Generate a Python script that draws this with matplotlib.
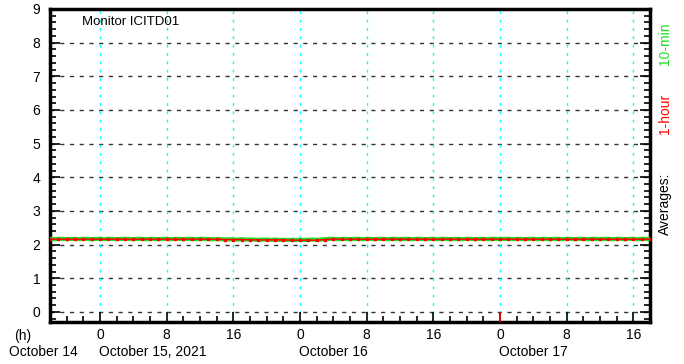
import numpy as np
import matplotlib.pyplot as plt
from matplotlib.ticker import MultipleLocator, FuncFormatter

plt.rcParams['font.family'] = ['Liberation Sans', 'DejaVu Sans']

# hours relative to October 15, 2021 00:00
t_start, t_end = -6, 66
y_min, y_max = -0.3, 9

# 1-hour averages (one per hour, from Oct 14 18:00)
hour_vals = [2.16, 2.16, 2.16, 2.16, 2.16, 2.16, 2.16, 2.16, 2.16, 2.16,
             2.16, 2.16, 2.16, 2.16, 2.16, 2.16, 2.16, 2.16, 2.16, 2.16,
             2.16, 2.15, 2.15, 2.15, 2.14, 2.14, 2.14, 2.14, 2.14, 2.13,
             2.13, 2.13, 2.13, 2.15, 2.16, 2.16, 2.16, 2.16, 2.16, 2.16,
             2.16, 2.16, 2.16, 2.16, 2.16, 2.16, 2.16, 2.16, 2.16, 2.16,
             2.16, 2.16, 2.16, 2.16, 2.16, 2.16, 2.16, 2.16, 2.16, 2.16,
             2.16, 2.16, 2.16, 2.16, 2.16, 2.16, 2.16, 2.16, 2.16, 2.16,
             2.16, 2.16, 2.16]
hour_t = np.arange(t_start, t_end + 1)

# 10-min averages (read off roughly, every 30 min)
tenmin_vals = [2.17, 2.16, 2.17, 2.17, 2.16, 2.17, 2.17, 2.16, 2.17, 2.17,
               2.16, 2.17, 2.17, 2.16, 2.17, 2.17, 2.16, 2.17, 2.17, 2.17,
               2.16, 2.17, 2.17, 2.16, 2.17, 2.17, 2.16, 2.17, 2.17, 2.16,
               2.17, 2.17, 2.16, 2.17, 2.17, 2.16, 2.17, 2.17, 2.16, 2.16,
               2.16, 2.16, 2.15, 2.16, 2.15, 2.15, 2.16, 2.15, 2.15, 2.15,
               2.14, 2.15, 2.15, 2.14, 2.15, 2.14, 2.14, 2.14, 2.14, 2.14,
               2.14, 2.14, 2.14, 2.15, 2.14, 2.15, 2.16, 2.17, 2.17, 2.16,
               2.17, 2.17, 2.16, 2.17, 2.17, 2.16, 2.17, 2.17, 2.16, 2.17,
               2.17, 2.16, 2.17, 2.17, 2.16, 2.17, 2.17, 2.16, 2.17, 2.17,
               2.16, 2.17, 2.17, 2.16, 2.17, 2.17, 2.16, 2.17, 2.17, 2.16,
               2.17, 2.17, 2.16, 2.17, 2.17, 2.16, 2.17, 2.17, 2.16, 2.17,
               2.17, 2.16, 2.17, 2.17, 2.16, 2.17, 2.17, 2.16, 2.17, 2.17,
               2.16, 2.17, 2.17, 2.16, 2.17, 2.17, 2.16, 2.17, 2.17, 2.16,
               2.17, 2.17, 2.16, 2.17, 2.17, 2.16, 2.17, 2.17, 2.16, 2.17,
               2.17, 2.16, 2.17, 2.17, 2.16]
tenmin_t = t_start + 0.5 * np.arange(len(tenmin_vals))

day_labels = ['October 14', 'October 15, 2021', 'October 16', 'October 17']
day_pos = [-24, 0, 24, 48]
day_marker = 48   # red mark at the bottom

fig = plt.figure(figsize=(6.84, 3.64), dpi=100)
ax = fig.add_axes([50 / 684, 42 / 364, 600 / 684, 313 / 364])

ax.set_xlim(t_start, t_end)
ax.set_ylim(y_min, y_max)

# grid
for y in range(0, 9):
    ax.axhline(y, color='#333333', lw=1, ls=(0, (3, 4)), zorder=1)
for x in range(0, t_end, 8):
    ax.axvline(x, color='cyan', lw=1, ls=(0, (2, 4)), zorder=1)

ax.plot(tenmin_t, tenmin_vals, color='#22dd22', lw=3, zorder=3)
ax.plot(hour_t, hour_vals, color='red', lw=1, marker='s', ms=1.5, zorder=4)
ax.vlines(day_marker, y_min, 0, color='red', lw=1.2, zorder=4)

ax.xaxis.set_major_locator(MultipleLocator(8))
ax.xaxis.set_minor_locator(MultipleLocator(2))
ax.yaxis.set_major_locator(MultipleLocator(1))
ax.yaxis.set_minor_locator(MultipleLocator(0.2))
ax.xaxis.set_major_formatter(FuncFormatter(lambda v, p: '%d' % (v % 24)))
ax.tick_params(which='both', direction='in', top=False, right=True,
               labelsize=10, width=1.2)
ax.tick_params(which='major', length=7)
ax.tick_params(which='minor', length=4)
ax.tick_params(axis='x', pad=4)
ax.tick_params(axis='y', pad=7)
for s in ax.spines.values():
    s.set_linewidth(2.5)

ax.text(0.053, 0.958, 'Monitor ICITD01', transform=ax.transAxes,
        fontsize=9.5, va='center')

# bottom labels
fig.text(23 / 684, 1 - 336 / 364, '(h)', ha='center', va='center', fontsize=10)
for lab, pos in zip(day_labels, day_pos):
    if pos < t_start:
        fig.text(43 / 684, 1 - 352 / 364, lab, ha='center', va='center', fontsize=10)
    else:
        xf = ax.transData.transform((pos, 0))[0] / fig.bbox.width
        fig.text(xf - 1 / 684, 1 - 352 / 364, lab, ha='left', va='center', fontsize=10)

# right side legend
fig.text(665 / 684, 1 - 44 / 364, '10-min', color='#22dd22', rotation=90,
         ha='center', va='center', fontsize=10)
fig.text(665 / 684, 1 - 114 / 364, '1-hour', color='red', rotation=90,
         ha='center', va='center', fontsize=10)
fig.text(665 / 684, 1 - 204 / 364, 'Averages:', color='black', rotation=90,
         ha='center', va='center', fontsize=10)

plt.savefig('out.png', dpi=100)
